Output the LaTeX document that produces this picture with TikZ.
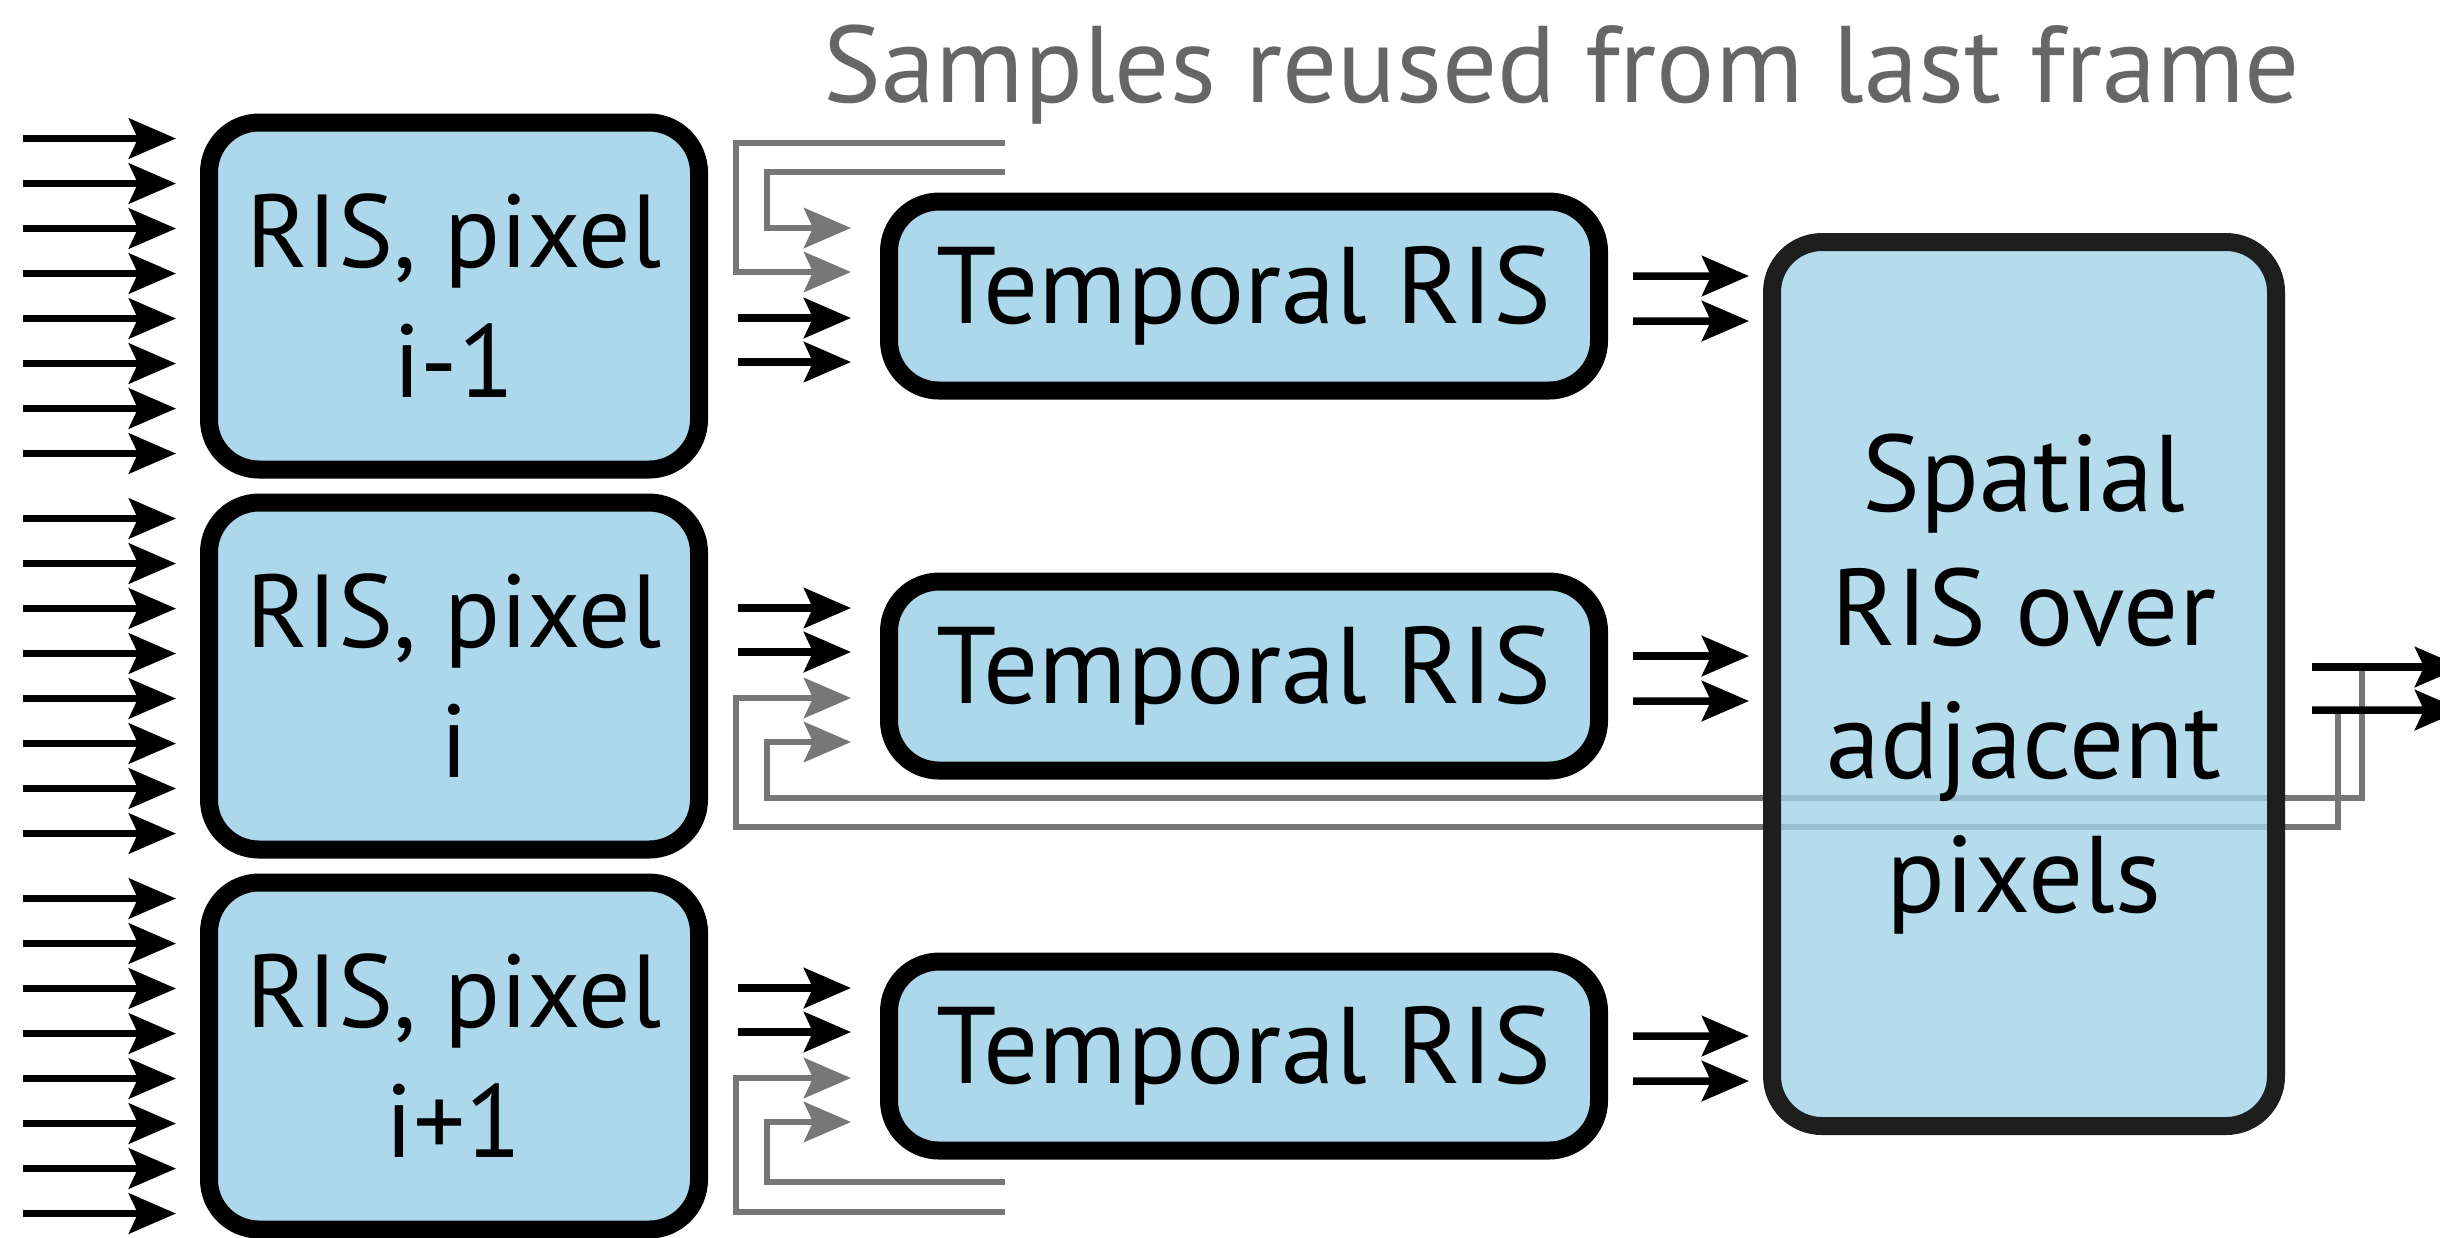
\documentclass[tikz,border=0pt]{standalone}
\usepackage{fontspec}
\setmainfont{PT Sans}
\usetikzlibrary{arrows.meta,backgrounds}

\definecolor{boxblue}{HTML}{ADD8EB}
\definecolor{spatblue}{HTML}{A1D3E7}
\definecolor{spatborder}{HTML}{1E1E1E}
\definecolor{reusegray}{HTML}{777777}
\definecolor{titlegray}{HTML}{666666}

\begin{document}
\begin{tikzpicture}[
    font=\fontsize{31}{36.5}\selectfont,
    risbox/.style={draw, line width=0.18cm, fill=boxblue, rounded corners=0.5cm,
      align=center, minimum width=4.9cm, minimum height=3.47cm,
      font=\fontsize{29.5}{37}\selectfont},
    tempbox/.style={draw, line width=0.18cm, fill=boxblue, rounded corners=0.5cm,
      minimum width=7.1cm, minimum height=1.89cm},
    flow/.style={line width=0.075cm, -{Stealth[length=0.47cm,width=0.4cm,inset=0.09cm]}},
    reuse/.style={flow, draw=reusegray, line width=0.065cm},
  ]
    \useasboundingbox (0,0) rectangle (24.40,-12.37);

    % Title
    \node (title) at (15.62,-1.02) [anchor=base, text=titlegray] {Samples reused from last frame};

    % Per-pixel RIS (left)
    \node (R1) at (4.54,-2.96) [risbox] {RIS, pixel\\i-1};
    \node (R2) at (4.54,-6.76) [risbox] {RIS, pixel\\i};
    \node (R3) at (4.54,-10.56) [risbox] {RIS, pixel\\i+1};

    % Temporal RIS (middle)
    \node (T1) at (12.44,-2.96) [tempbox] {Temporal RIS};
    \node (T2) at (12.44,-6.76) [tempbox] {Temporal RIS};
    \node (T3) at (12.44,-10.56) [tempbox] {Temporal RIS};

    % Spatial RIS (right)
    \node (S) at (20.24,-6.84) [draw=spatborder, line width=0.18cm, fill=spatblue,
      fill opacity=0.8, text opacity=1, rounded corners=0.5cm, align=center,
      minimum width=5.04cm, minimum height=8.84cm,
      font=\fontsize{31}{38}\selectfont] {Spatial\\RIS over\\adjacent\\pixels};

    % Loose ends of the reuse lines and outputs
    \coordinate (fbA) at (10.05,-1.72);
    \coordinate (fbB) at (10.05,-1.43);
    \coordinate (fbC) at (10.05,-12.12);
    \coordinate (fbD) at (10.05,-11.82);
    \coordinate (outA) at (24.62,-6.67);
    \coordinate (outB) at (24.62,-7.10);

    % Candidate samples into each pixel
    \foreach \d in {1.575,1.125,0.675,0.225,-0.225,-0.675,-1.125,-1.575} {
        \draw[flow] ([xshift=-1.77cm,yshift=\d cm]R1.west) -- ([xshift=-0.24cm,yshift=\d cm]R1.west);
        \draw[flow] ([xshift=-1.77cm,yshift=\d cm]R2.west) -- ([xshift=-0.24cm,yshift=\d cm]R2.west);
        \draw[flow] ([xshift=-1.77cm,yshift=\d cm]R3.west) -- ([xshift=-0.24cm,yshift=\d cm]R3.west);
    }

    % Pixel i-1 into temporal RIS
    \draw[reuse] (fbA) -| ([xshift=0.59cm,yshift=0.68cm]R1.east) -- ([xshift=-0.29cm,yshift=0.68cm]T1.west);
    \draw[reuse] (fbB) -| ([xshift=0.28cm,yshift=0.24cm]R1.east) -- ([xshift=-0.29cm,yshift=0.24cm]T1.west);
    \draw[flow] ([xshift=0.30cm,yshift=-0.22cm]R1.east) -- ([xshift=-0.29cm,yshift=-0.22cm]T1.west);
    \draw[flow] ([xshift=0.30cm,yshift=-0.66cm]R1.east) -- ([xshift=-0.29cm,yshift=-0.66cm]T1.west);

    % Pixel i into temporal RIS
    \draw[flow] ([xshift=0.30cm,yshift=0.68cm]R2.east) -- ([xshift=-0.29cm,yshift=0.68cm]T2.west);
    \draw[flow] ([xshift=0.30cm,yshift=0.24cm]R2.east) -- ([xshift=-0.29cm,yshift=0.24cm]T2.west);
    \begin{scope}[on background layer]
        \draw[reuse] ([xshift=0.53cm,yshift=-0.26cm]S.east) |- ([xshift=0.28cm,yshift=-1.51cm]R2.east)
            |- ([xshift=-0.29cm,yshift=-0.22cm]T2.west);
        \draw[reuse] ([xshift=0.77cm,yshift=0.17cm]S.east) |- ([xshift=0.59cm,yshift=-1.22cm]R2.east)
            |- ([xshift=-0.29cm,yshift=-0.66cm]T2.west);
    \end{scope}

    % Pixel i+1 into temporal RIS
    \draw[flow] ([xshift=0.30cm,yshift=0.68cm]R3.east) -- ([xshift=-0.29cm,yshift=0.68cm]T3.west);
    \draw[flow] ([xshift=0.30cm,yshift=0.24cm]R3.east) -- ([xshift=-0.29cm,yshift=0.24cm]T3.west);
    \draw[reuse] (fbC) -| ([xshift=0.28cm,yshift=-0.22cm]R3.east) -- ([xshift=-0.29cm,yshift=-0.22cm]T3.west);
    \draw[reuse] (fbD) -| ([xshift=0.59cm,yshift=-0.66cm]R3.east) -- ([xshift=-0.29cm,yshift=-0.66cm]T3.west);

    % Temporal RIS into spatial RIS
    \draw[flow] ([xshift=0.25cm,yshift=0.2cm]T1.east) -- ([xshift=-0.14cm,yshift=4.08cm]S.west);
    \draw[flow] ([xshift=0.25cm,yshift=-0.25cm]T1.east) -- ([xshift=-0.14cm,yshift=3.63cm]S.west);
    \draw[flow] ([xshift=0.25cm,yshift=0.2cm]T2.east) -- ([xshift=-0.14cm,yshift=0.28cm]S.west);
    \draw[flow] ([xshift=0.25cm,yshift=-0.25cm]T2.east) -- ([xshift=-0.14cm,yshift=-0.17cm]S.west);
    \draw[flow] ([xshift=0.25cm,yshift=0.2cm]T3.east) -- ([xshift=-0.14cm,yshift=-3.52cm]S.west);
    \draw[flow] ([xshift=0.25cm,yshift=-0.25cm]T3.east) -- ([xshift=-0.14cm,yshift=-3.97cm]S.west);

    % Output
    \draw[flow] ([xshift=0.27cm,yshift=0.17cm]S.east) -- (outA);
    \draw[flow] ([xshift=0.27cm,yshift=-0.26cm]S.east) -- (outB);
\end{tikzpicture}
\end{document}
